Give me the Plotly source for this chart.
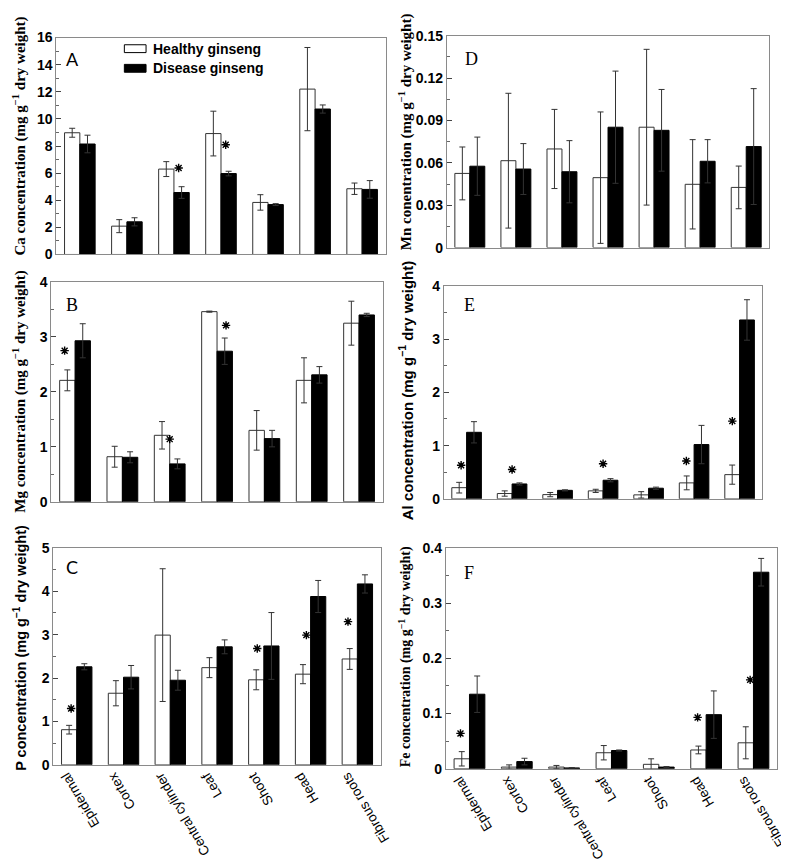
import plotly.graph_objects as go

W, H = 789, 861

categories = ["Epidermal", "Cortex", "Central cylinder", "Leaf", "Shoot", "Head", "Fibrous roots"]
series_names = ["Healthy ginseng", "Disease ginseng"]

# Ca (panel A)
ca_healthy = [8.98, 2.09, 6.30, 8.92, 3.84, 12.20, 4.85]
ca_healthy_err = [0.33, 0.48, 0.55, 1.65, 0.57, 3.07, 0.42]
ca_disease = [8.15, 2.41, 4.57, 5.97, 3.68, 10.73, 4.80]
ca_disease_err = [0.65, 0.30, 0.43, 0.17, 0.07, 0.30, 0.65]

# Mn (panel D)
mn_healthy = [0.0525, 0.0615, 0.0698, 0.0495, 0.0852, 0.0448, 0.0426]
mn_healthy_err = [0.0187, 0.0477, 0.0280, 0.0465, 0.0551, 0.0316, 0.0151]
mn_disease = [0.0576, 0.0556, 0.0537, 0.0852, 0.0830, 0.0611, 0.0715]
mn_disease_err = [0.0206, 0.0180, 0.0220, 0.0397, 0.0289, 0.0153, 0.0410]

# Mg (panel B)
mg_healthy = [2.21, 0.82, 1.21, 3.46, 1.30, 2.21, 3.25]
mg_healthy_err = [0.19, 0.19, 0.25, 0.01, 0.36, 0.41, 0.40]
mg_disease = [2.93, 0.81, 0.69, 2.74, 1.15, 2.31, 3.40]
mg_disease_err = [0.31, 0.10, 0.09, 0.24, 0.15, 0.15, 0.03]

# Al (panel E)
al_healthy = [0.21, 0.10, 0.08, 0.15, 0.075, 0.30, 0.455]
al_healthy_err = [0.10, 0.05, 0.04, 0.03, 0.06, 0.13, 0.18]
al_disease = [1.25, 0.28, 0.16, 0.35, 0.20, 1.02, 3.36]
al_disease_err = [0.20, 0.02, 0.01, 0.03, 0.02, 0.36, 0.38]

# P (panel C)
p_healthy = [0.81, 1.65, 2.99, 2.24, 1.96, 2.09, 2.44]
p_healthy_err = [0.10, 0.29, 1.53, 0.23, 0.23, 0.22, 0.24]
p_disease = [2.26, 2.02, 1.95, 2.72, 2.74, 3.88, 4.17]
p_disease_err = [0.07, 0.27, 0.23, 0.16, 0.77, 0.37, 0.21]

# Fe (panel F)
fe_healthy = [0.018, 0.003, 0.003, 0.029, 0.008, 0.034, 0.047]
fe_healthy_err = [0.013, 0.004, 0.003, 0.013, 0.010, 0.007, 0.029]
fe_disease = [0.135, 0.013, 0.0015, 0.033, 0.003, 0.098, 0.356]
fe_disease_err = [0.033, 0.006, 0.0005, 0.001, 0.001, 0.043, 0.025]

# significance marks: (category, height of mark)
ca_sig = [("Central cylinder", 6.38), ("Leaf", 8.10)]
mn_sig = []
mg_sig = [("Epidermal", 2.75), ("Central cylinder", 1.14), ("Leaf", 3.21)]
al_sig = [("Epidermal", 0.63), ("Cortex", 0.55), ("Leaf", 0.66), ("Head", 0.71), ("Fibrous roots", 1.46)]
p_sig = [("Epidermal", 1.30), ("Shoot", 2.68), ("Head", 2.99), ("Fibrous roots", 3.30)]
fe_sig = [("Epidermal", 0.064), ("Head", 0.093), ("Fibrous roots", 0.161)]

# horizontal nudges of the significance marks (in category units), style only
ca_sig_dx = [0.10, 0.10]
mg_sig_dx = [-0.22, 0.0, 0.19]
al_sig_dx = [-0.12, 0.0, 0.0, -0.17, -0.16]
p_sig_dx = [-0.12, -0.14, -0.09, -0.20]
fe_sig_dx = [-0.19, -0.18, -0.07]


def px_dom_x(a, b):
    return [a / W, b / W]


def px_dom_y(top, bottom):
    return [1 - bottom / H, 1 - top / H]


panels = [
    dict(key="A", h=ca_healthy, he=ca_healthy_err, d=ca_disease, de=ca_disease_err, sig=ca_sig, sdx=ca_sig_dx,
         rng=[0, 16], dtick=2, minor=1, xd=px_dom_x(49, 383), yd=px_dom_y(22, 243), labels=False,
         title="Ca concentration (mg g<sup>−1</sup> dry weight)", tfont="Liberation Serif", tsize=15, tpos=(12, 122),
         letter_font="Lato", letter_pos=(65, 44)),
    dict(key="D", h=mn_healthy, he=mn_healthy_err, d=mn_disease, de=mn_disease_err, sig=mn_sig, sdx=[],
         rng=[0, 0.15], dtick=0.03, minor=0.015, xd=px_dom_x(445, 772), yd=px_dom_y(20, 236), labels=False,
         title="Mn conentration (mg g<sup>−1</sup> dry weight)", tfont="Liberation Serif", tsize=15, tpos=(403, 118),
         letter_font="Liberation Serif", letter_pos=(470, 44)),
    dict(key="B", h=mg_healthy, he=mg_healthy_err, d=mg_disease, de=mg_disease_err, sig=mg_sig, sdx=mg_sig_dx,
         rng=[0, 4], dtick=1, minor=0.5, xd=px_dom_x(44, 380), yd=px_dom_y(271, 495), labels=False,
         title="Mg concentration (mg g<sup>−1</sup> dry weight)", tfont="Liberation Serif", tsize=15, tpos=(12, 383),
         letter_font="Liberation Serif", letter_pos=(65, 294)),
    dict(key="E", h=al_healthy, he=al_healthy_err, d=al_disease, de=al_disease_err, sig=al_sig, sdx=al_sig_dx,
         rng=[0, 4], dtick=1, minor=0.5, xd=px_dom_x(442, 765), yd=px_dom_y(275, 492), labels=False,
         title="Al concentration (mg g<sup>−1</sup> dry weight)", tfont="Liberation Sans", tsize=15, tpos=(404, 381),
         letter_font="Liberation Serif", letter_pos=(468, 294)),
    dict(key="C", h=p_healthy, he=p_healthy_err, d=p_disease, de=p_disease_err, sig=p_sig, sdx=p_sig_dx,
         rng=[0, 5], dtick=1, minor=0.5, xd=px_dom_x(46, 378), yd=px_dom_y(542, 763), labels=True,
         title="P concentration (mg g<sup>−1</sup> dry weight)", tfont="Liberation Sans", tsize=14.5, tpos=(12, 644),
         letter_font="Lato", letter_pos=(65, 561)),
    dict(key="F", h=fe_healthy, he=fe_healthy_err, d=fe_disease, de=fe_disease_err, sig=fe_sig, sdx=fe_sig_dx,
         rng=[0, 0.4], dtick=0.1, minor=0.05, xd=px_dom_x(444, 780), yd=px_dom_y(542, 767), labels=True,
         title="Fe concentration (mg g<sup>−1</sup> dry weight)", tfont="Liberation Serif", tsize=14, tpos=(403, 653),
         letter_font="Liberation Serif", letter_pos=(468, 568)),
]

fig = go.Figure()
layout = dict(
    width=W, height=H, margin=dict(l=0, r=0, t=0, b=0),
    paper_bgcolor="white", plot_bgcolor="white",
    barmode="group", bargap=0.35, bargroupgap=0.0,
    showlegend=False,
    font=dict(family="Liberation Sans", color="black"),
)
annotations = []
shapes = []
xpos = list(range(len(categories)))
LINE = "#8a8a8a"

for i, p in enumerate(panels):
    n = "" if i == 0 else str(i + 1)
    xa, ya = "x" + n, "y" + n
    fig.add_trace(go.Bar(
        x=xpos, y=p["h"], name=series_names[0], xaxis=xa, yaxis=ya,
        marker=dict(color="white", line=dict(color="#333333", width=1)),
        error_y=dict(type="data", array=p["he"], color="#333333", thickness=1, width=3),
    ))
    fig.add_trace(go.Bar(
        x=xpos, y=p["d"], name=series_names[1], xaxis=xa, yaxis=ya,
        marker=dict(color="black", line=dict(color="black", width=1)),
        error_y=dict(type="data", array=p["de"], color="#333333", thickness=1, width=3),
    ))
    if p["sig"]:
        sx = [categories.index(c) + dx for (c, _), dx in zip(p["sig"], p["sdx"])]
        sy = [v for _, v in p["sig"]]
        fig.add_trace(go.Scatter(
            x=sx, y=sy, mode="markers", xaxis=xa, yaxis=ya, hoverinfo="skip",
            marker=dict(symbol="asterisk-open", size=7, color="black", line=dict(color="black", width=1.4)),
        ))
    layout["xaxis" + n] = dict(
        domain=p["xd"], anchor=ya, range=[-0.5, 6.5],
        tickvals=xpos, ticktext=categories, showticklabels=p["labels"],
        ticks="", tickangle=-121, ticklabelshift=-14,
        tickfont=dict(family="Liberation Sans", size=13.5, color="black"),
        showline=True, linecolor=LINE, linewidth=1, mirror=True,
        showgrid=False, zeroline=False,
    )
    layout["yaxis" + n] = dict(
        domain=p["yd"], anchor=xa, range=p["rng"], dtick=p["dtick"], tick0=0,
        ticks="inside", ticklen=5, tickcolor="#444444", tickwidth=1,
        minor=dict(dtick=p["minor"], tick0=0, ticks="inside", ticklen=3, tickcolor="#666666", showgrid=False),
        tickfont=dict(family="Liberation Sans", size=14, color="black", weight="bold"),
        showline=True, linecolor=LINE, linewidth=1, mirror=True,
        showgrid=False, zeroline=False,
    )
    tx, ty = p["tpos"]
    annotations.append(dict(
        text="<b>" + p["title"] + "</b>", textangle=-90, xref="paper", yref="paper",
        x=tx / W, y=1 - ty / H, xanchor="center", yanchor="middle", showarrow=False,
        font=dict(family=p["tfont"], size=p["tsize"], color="black"),
    ))
    lx, ly = p["letter_pos"]
    annotations.append(dict(
        text=p["key"], xref="paper", yref="paper", x=lx / W, y=1 - ly / H,
        xanchor="center", yanchor="middle", showarrow=False,
        font=dict(family=p["letter_font"], size=18, color="black"),
    ))

# legend inside panel A
legend_fill = ["white", "black"]
legend_rows = [33.3, 53.3]
for name, fill, cy in zip(series_names, legend_fill, legend_rows):
    shapes.append(dict(
        type="rect", xref="paper", yref="paper",
        x0=118 / W, x1=140 / W, y0=1 - (cy + 4) / H, y1=1 - (cy - 4) / H,
        fillcolor=fill, line=dict(color="black", width=1),
    ))
    annotations.append(dict(
        text=name, xref="paper", yref="paper", x=145 / W, y=1 - cy / H,
        xanchor="left", yanchor="middle", showarrow=False,
        font=dict(family="Liberation Sans", size=14, color="black", weight="bold"),
    ))

layout["annotations"] = annotations
layout["shapes"] = shapes
fig.update_layout(**layout)
fig.write_html("out.html")
